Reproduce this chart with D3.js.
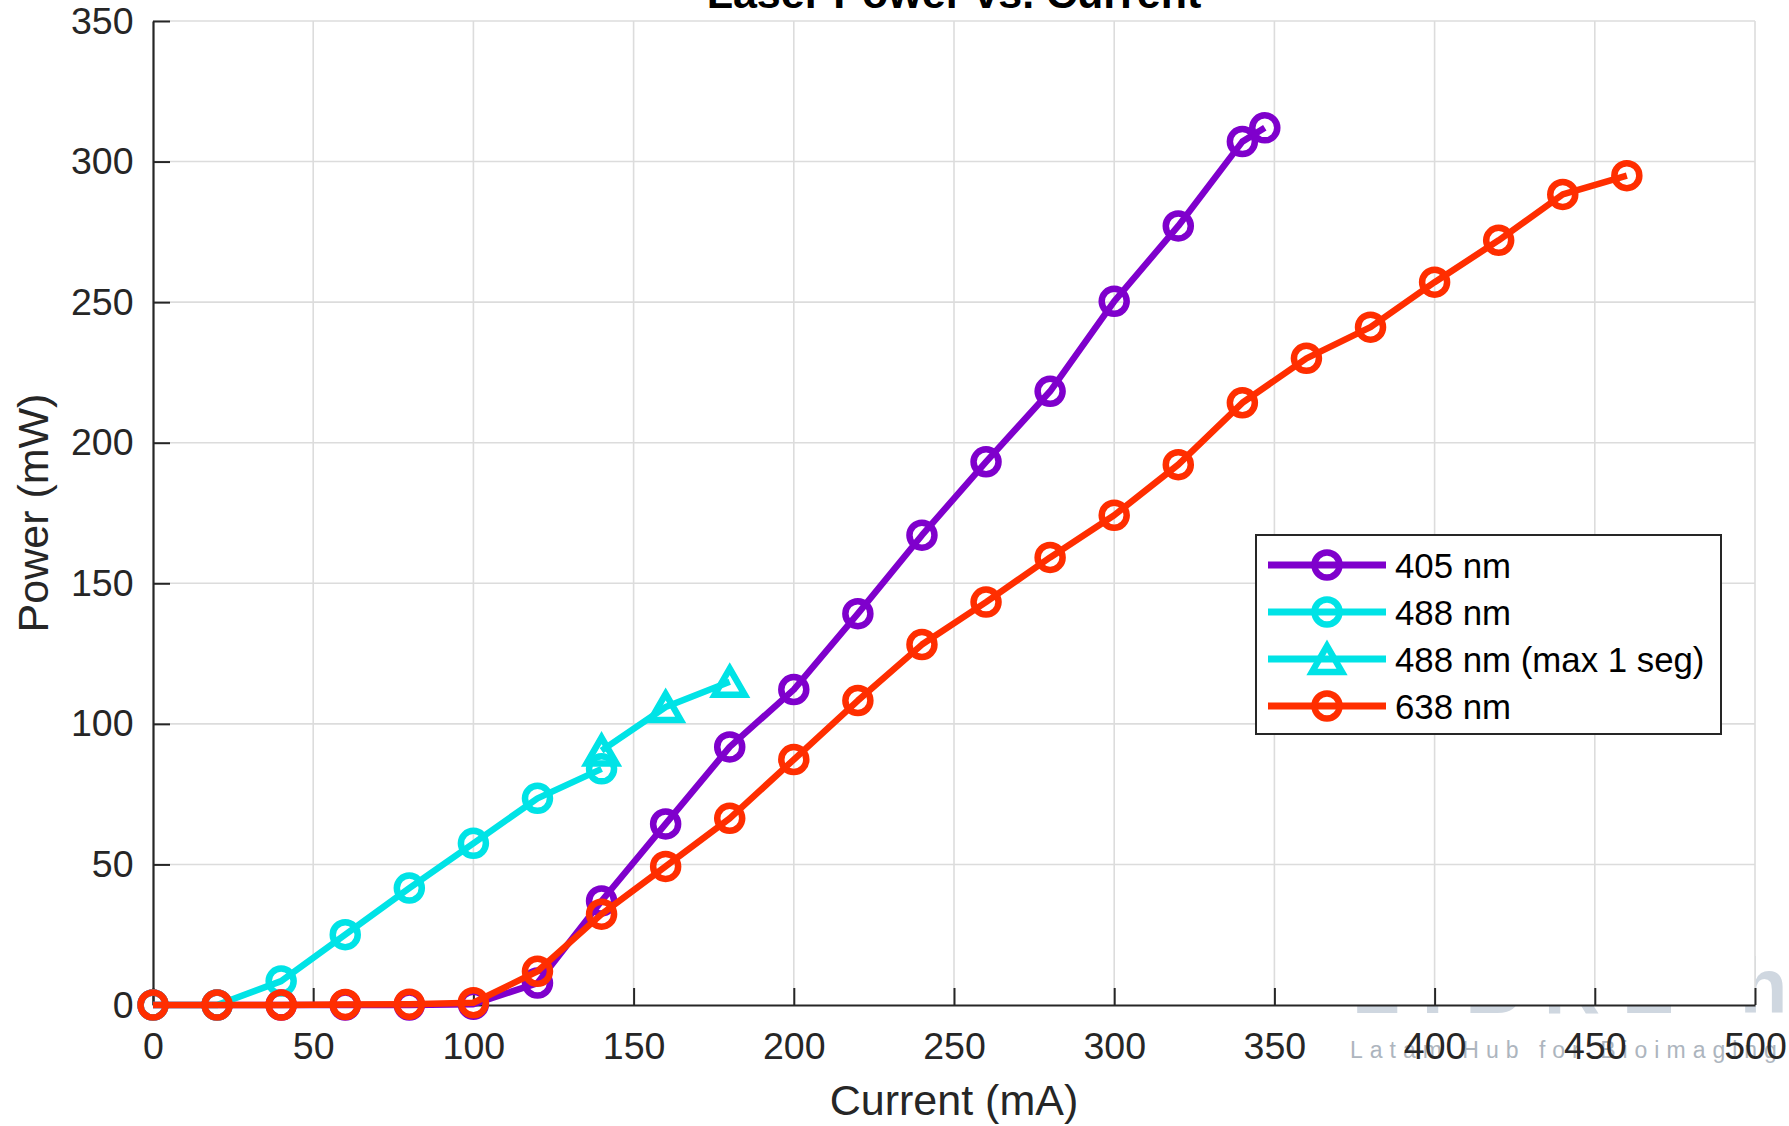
<!DOCTYPE html>
<html>
<head>
<meta charset="utf-8">
<script src="https://cdn.jsdelivr.net/npm/d3@7"></script>
<style>
html,body{margin:0;padding:0;background:#fff;}
svg{display:block;}
text{font-family:"Liberation Sans",Arial,Helvetica,sans-serif;}
</style>
</head>
<body>
<svg id="chart" width="1789" height="1126"></svg>
<script>
// ---- data ----
const current405 = [0,20,40,60,80,100,120,140,160,180,200,220,240,260,280,300,320,340,347];
const power405   = [0,0,0,0,0,0.3,7.8,37,64.4,91.8,112.2,139.2,167.1,193.2,218.3,250.3,277.1,307.1,312];
const current488 = [0,20,40,60,80,100,120,140];
const power488   = [0,0,8.5,25,41.6,57.5,73.5,84];
const current488max = [140,160,180];
const power488max   = [90.5,106,115];
const current638 = [0,20,40,60,80,100,120,140,160,180,200,220,240,260,280,300,320,340,360,380,400,420,440,460];
const power638   = [0,0,0,0.2,0.3,0.8,12,32.3,49.3,66.4,87.3,108.3,128.2,143.3,159.2,174.2,192.2,214.2,230,241.1,257.1,272,288.3,295];
const xTicks = [0,50,100,150,200,250,300,350,400,450,500];
const yTicks = [0,50,100,150,200,250,300,350];
const seriesNames = ["405 nm","488 nm","488 nm (max 1 seg)","638 nm"];
const seriesColors = ["#7f00cc","#00e3e6","#00e3e6","#ff2e00"];
const seriesMarkers = ["circle","circle","triangle","circle"];

const series = [
  {x: current405, y: power405},
  {x: current488, y: power488},
  {x: current488max, y: power488max},
  {x: current638, y: power638}
].map((s,i)=>({name:seriesNames[i], color:seriesColors[i], marker:seriesMarkers[i],
  pts:s.x.map((v,j)=>[v,s.y[j]])}));

// ---- layout ----
const svg = d3.select("#chart");
const L = 153, R = 1755, T = 21, B = 1005;
const axisColor = "#262626";
const x = d3.scaleLinear().domain([0,500]).range([L,R]);
const y = d3.scaleLinear().domain([0,350]).range([B,T]);

// watermark (behind everything)
svg.append("text").attr("x",1352).attr("y",1013)
  .attr("font-size",78).attr("font-weight",700).attr("letter-spacing",22)
  .attr("fill","#cfd7e0").text("LIBRE hub");
svg.append("text").attr("x",1350).attr("y",1058)
  .attr("font-size",23).attr("letter-spacing",7)
  .attr("fill","#adb5be").text("Latam Hub for Bioimaging tools");

// plot background
svg.append("rect").attr("x",L).attr("y",T).attr("width",R-L).attr("height",B-T).attr("fill","#fff");

// grid
const grid = svg.append("g").attr("stroke","#dcdcdc").attr("stroke-width",1.6);
grid.selectAll("line.gx").data(xTicks.filter(d=>d>0)).join("line")
  .attr("x1",d=>x(d)).attr("x2",d=>x(d)).attr("y1",T).attr("y2",B);
grid.selectAll("line.gy").data(yTicks.filter(d=>d>0)).join("line")
  .attr("x1",L).attr("x2",R).attr("y1",d=>y(d)).attr("y2",d=>y(d));

// axes
const xAxis = d3.axisBottom(x).tickValues(xTicks).tickSizeInner(-17).tickSizeOuter(0).tickPadding(27.7).tickFormat(d3.format("d"));
const yAxis = d3.axisLeft(y).tickValues(yTicks).tickSizeInner(-17).tickSizeOuter(0).tickPadding(19.5).tickFormat(d3.format("d"));
const gx = svg.append("g").attr("transform",`translate(0,${B})`).call(xAxis);
const gy = svg.append("g").attr("transform",`translate(${L},0)`).call(yAxis);
[gx,gy].forEach(g=>{
  g.select(".domain").attr("stroke",axisColor).attr("stroke-width",2.2);
  g.selectAll(".tick line").attr("stroke",axisColor).attr("stroke-width",2);
  g.selectAll(".tick text").attr("fill",axisColor).attr("font-size",37.5)
    .attr("font-family","'Liberation Sans',Arial,Helvetica,sans-serif");
});

// axis labels & title
svg.append("text").attr("x",(L+R)/2).attr("y",1115).attr("text-anchor","middle")
  .attr("font-size",43).attr("fill",axisColor).text("Current (mA)");
svg.append("text").attr("transform",`translate(48,${(T+B)/2}) rotate(-90)`).attr("text-anchor","middle")
  .attr("font-size",43).attr("fill",axisColor).text("Power (mW)");
svg.append("text").attr("x",(L+R)/2).attr("y",8).attr("text-anchor","middle")
  .attr("font-size",43).attr("font-weight",700).attr("fill","#000").text("Laser Power vs. Current");

// markers
const triPath = "M0,-13L15,13L-15,13Z";
function drawMarker(g, kind, color){
  if(kind==="circle"){
    g.append("circle").attr("r",12.5).attr("fill","none").attr("stroke",color).attr("stroke-width",6.5);
  } else {
    g.append("path").attr("d",triPath).attr("fill","none").attr("stroke",color).attr("stroke-width",6.5).attr("stroke-linejoin","miter");
  }
}

// series
const line = d3.line().x(d=>x(d[0])).y(d=>y(d[1]));
series.forEach(s=>{
  const g = svg.append("g");
  g.append("path").datum(s.pts).attr("d",line).attr("fill","none")
    .attr("stroke",s.color).attr("stroke-width",6.5).attr("stroke-linejoin","round");
  g.selectAll("g.m").data(s.pts).join("g").attr("class","m")
    .attr("transform",d=>`translate(${x(d[0])},${y(d[1])})`)
    .each(function(){ drawMarker(d3.select(this), s.marker, s.color); });
});

// legend
const lg = svg.append("g");
lg.append("rect").attr("x",1256).attr("y",535).attr("width",465).attr("height",199)
  .attr("fill","#fff").attr("stroke",axisColor).attr("stroke-width",2);
const rowY = d3.scalePoint().domain(seriesNames).range([565,706]);
series.forEach(s=>{
  const yy = rowY(s.name);
  lg.append("line").attr("x1",1268).attr("x2",1386).attr("y1",yy).attr("y2",yy)
    .attr("stroke",s.color).attr("stroke-width",7);
  const mg = lg.append("g").attr("transform",`translate(1327,${yy})`);
  drawMarker(mg, s.marker, s.color);
  lg.append("text").attr("x",1395).attr("y",yy).attr("dy","0.36em")
    .attr("font-size",34.8).attr("fill","#000").text(s.name);
});
</script>
</body>
</html>
